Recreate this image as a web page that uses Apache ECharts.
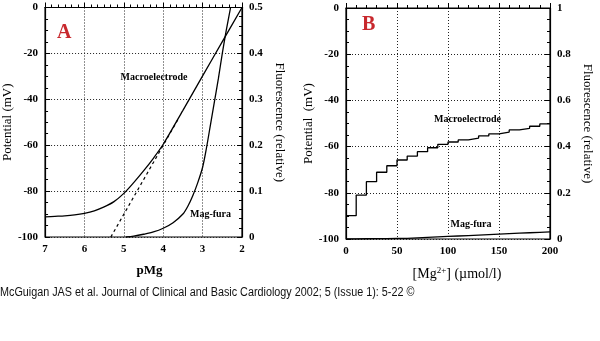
<!DOCTYPE html>
<html>
<head>
<meta charset="utf-8">
<script src="https://cdn.jsdelivr.net/npm/echarts@6/dist/echarts.min.js"></script>
<style>
  html, body { margin: 0; padding: 0; background: #fff; }
  #chart { width: 600px; height: 341px; }
</style>
</head>
<body>
<div id="chart"></div>
<script>
// Panel A: potential and fluorescence against pMg
const pMgMacro   = [7.0, 6.75, 6.5, 6.25, 6.0, 5.75, 5.5, 5.25, 5.0, 4.75, 4.5, 4.25, 4.0, 3.5, 3.0, 2.5, 2.0];
const mVMacro    = [-91.2, -91.0, -90.8, -90.4, -89.7, -88.6, -86.9, -84.6, -81.0, -76.3, -71.2, -65.7, -59.6, -44.8, -29.8, -14.9, 0];
const pMgFura    = [4.95, 4.75, 4.5, 4.25, 4.0, 3.75, 3.5, 3.375, 3.25, 3.125, 3.0, 2.9, 2.8, 2.7, 2.6, 2.5, 2.4, 2.29];
const fluorFura  = [0, 0.002, 0.006, 0.011, 0.019, 0.031, 0.05, 0.067, 0.09, 0.118, 0.152, 0.195, 0.245, 0.295, 0.345, 0.40, 0.45, 0.5];
const pMgNernst  = [5.33, 3.6];
const mVNernst   = [-100, -48];

// Panel B: potential and fluorescence against free [Mg2+]
const mgConc     = [0, 10, 20, 30, 40, 50, 60, 70, 80, 90, 100, 110, 120, 130, 140, 150, 160, 170, 180, 190, 200];
const mVStepB    = [-89.9, -81.0, -75.2, -71.1, -68.3, -65.8, -64.1, -62.2, -60.5, -59.0, -58.0, -57.1, -56.3, -55.4, -54.5, -53.7, -52.8, -52.1, -51.2, -50.2, -50.2];
const fluorStepB = [0, 0.001, 0.002, 0.002, 0.003, 0.003, 0.005, 0.007, 0.009, 0.011, 0.013, 0.015, 0.017, 0.019, 0.021, 0.023, 0.025, 0.027, 0.029, 0.031, 0.033];

const zip = (xs, ys) => xs.map((x, i) => [x, ys[i]]);

const SERIF = '"Liberation Serif", "DejaVu Serif", serif';
const black = '#000';

function axisCommon(extra) {
  return Object.assign({
    type: 'value',
    axisLine: { show: true, lineStyle: { color: black, width: 1.2 } },
    axisTick: { show: true, inside: true, length: 5, lineStyle: { color: black } },
    minorTick: { show: true, length: 3, lineStyle: { color: black } },
    axisLabel: { color: black, fontFamily: SERIF, fontWeight: 'bold', fontSize: 11, margin: 7 },
    splitLine: { show: false },
    nameTextStyle: { color: black, fontFamily: SERIF, fontSize: 13 }
  }, extra);
}
const dotted = { show: true, lineStyle: { color: '#222', width: 1, type: [1, 2] } };

const lineStyle = { color: black, width: 1.3 };

const option = {
  backgroundColor: '#fff',
  animation: false,
  grid: [
    { left: 43, top: 7.5, width: 199, height: 229.5, show: true, borderColor: black, borderWidth: 1.2 },
    { left: 346, top: 8, width: 204, height: 231, show: true, borderColor: black, borderWidth: 1.2 }
  ],
  xAxis: [
    axisCommon({ gridIndex: 0, min: 2, max: 7, interval: 1, inverse: true, position: 'bottom',
      minorTick: { show: true, splitNumber: 6, length: 3, lineStyle: { color: black } },
      splitLine: dotted, name: 'pMg', nameLocation: 'middle', nameGap: 27,
      nameTextStyle: { color: black, fontFamily: SERIF, fontSize: 13, fontWeight: 'bold', padding: [0, 0, 0, 12] } }),
    axisCommon({ gridIndex: 1, min: 0, max: 200, interval: 50, position: 'bottom',
      minorTick: { show: true, splitNumber: 5, length: 3, lineStyle: { color: black } },
      splitLine: dotted, name: '[Mg{sup|2+}] (µmol/l)', nameLocation: 'middle', nameGap: 27,
      nameTextStyle: { color: black, fontFamily: SERIF, fontSize: 14, padding: [0, 0, 0, 18],
        rich: { sup: { fontFamily: SERIF, fontSize: 9, verticalAlign: 'top', padding: [0, 0, 8, 0] } } } })
  ],
  yAxis: [
    axisCommon({ gridIndex: 0, min: -100, max: 0, interval: 20, position: 'left',
      minorTick: { show: true, splitNumber: 4, length: 3, lineStyle: { color: black } },
      splitLine: dotted, name: 'Potential (mV)', nameLocation: 'middle', nameGap: 25 }),
    axisCommon({ gridIndex: 0, min: 0, max: 0.5, interval: 0.1, position: 'right',
      minorTick: { show: true, splitNumber: 5, length: 3, lineStyle: { color: black } },
      name: 'Fluorescence (relative)', nameLocation: 'middle', nameGap: 31, nameRotate: -90 }),
    axisCommon({ gridIndex: 1, min: -100, max: 0, interval: 20, position: 'left',
      minorTick: { show: true, splitNumber: 4, length: 3, lineStyle: { color: black } },
      splitLine: dotted, name: 'Potential  (mV)', nameLocation: 'middle', nameGap: 27 }),
    axisCommon({ gridIndex: 1, min: 0, max: 1, interval: 0.2, position: 'right',
      minorTick: { show: true, splitNumber: 4, length: 3, lineStyle: { color: black } },
      name: 'Fluorescence (relative)', nameLocation: 'middle', nameGap: 31, nameRotate: -90 })
  ],
  series: [
    { name: 'Macroelectrode', type: 'line', xAxisIndex: 0, yAxisIndex: 0, showSymbol: false,
      smooth: 0.3, data: zip(pMgMacro, mVMacro), lineStyle: lineStyle },
    { name: 'Nernst', type: 'line', xAxisIndex: 0, yAxisIndex: 0, showSymbol: false,
      data: zip(pMgNernst, mVNernst), lineStyle: { color: black, width: 1.2, type: [3, 3] } },
    { name: 'Mag-fura', type: 'line', xAxisIndex: 0, yAxisIndex: 1, showSymbol: false,
      smooth: 0.3, data: zip(pMgFura, fluorFura), lineStyle: lineStyle },
    { name: 'Macroelectrode B', type: 'line', xAxisIndex: 1, yAxisIndex: 2, showSymbol: false,
      step: 'end', data: zip(mgConc, mVStepB), lineStyle: lineStyle },
    { name: 'Mag-fura B', type: 'line', xAxisIndex: 1, yAxisIndex: 3, showSymbol: false,
      step: 'end', data: zip(mgConc, fluorStepB), lineStyle: lineStyle }
  ],
  graphic: [
    { type: 'text', left: 57, top: 23, style: { text: 'A', fill: '#c8282d', font: 'bold 20px ' + SERIF } },
    { type: 'text', left: 362, top: 15, style: { text: 'B', fill: '#c8282d', font: 'bold 20px ' + SERIF } },
    { type: 'text', x: 154, y: 77.5, style: { text: 'Macroelectrode', align: 'center', verticalAlign: 'middle', fill: black, font: 'bold 10px ' + SERIF } },
    { type: 'text', x: 210.5, y: 214.5, style: { text: 'Mag-fura', align: 'center', verticalAlign: 'middle', fill: black, font: 'bold 10px ' + SERIF } },
    { type: 'text', x: 467.5, y: 119, style: { text: 'Macroelectrode', align: 'center', verticalAlign: 'middle', fill: black, font: 'bold 10px ' + SERIF } },
    { type: 'text', x: 471, y: 224, style: { text: 'Mag-fura', align: 'center', verticalAlign: 'middle', fill: black, font: 'bold 10px ' + SERIF } },
    { type: 'text', x: 0, y: 287, scaleX: 0.9, style: { text: 'McGuigan JAS et al. Journal of Clinical and Basic Cardiology 2002; 5 (Issue 1): 5-22 ©', fill: '#111', font: '12px "Liberation Sans", Arial, sans-serif' } }
  ]
};

const chart = echarts.init(document.getElementById('chart'), null, { renderer: 'canvas' });
chart.setOption(option);
</script>
</body>
</html>
